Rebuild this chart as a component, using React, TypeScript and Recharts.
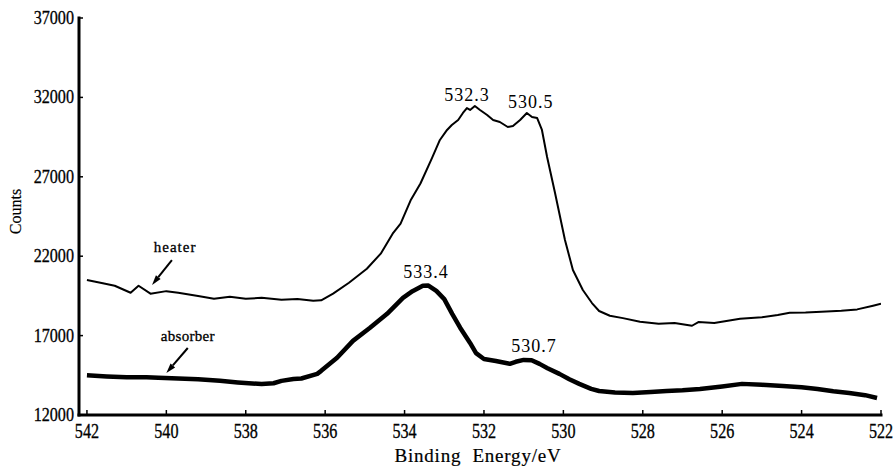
import React from 'react';
import { LineChart, Line, XAxis, YAxis, ReferenceDot, ReferenceLine, Label } from 'recharts';

const FONT = "'Liberation Serif', 'Times New Roman', serif";

const xDomainStart = 542.2;
const xTicks = [542, 540, 538, 536, 534, 532, 530, 528, 526, 524, 522];
const yTicks = [12000, 17000, 22000, 27000, 32000, 37000];

const heaterEnergy = [
  542.0, 541.6, 541.3, 540.9, 540.7, 540.4, 540.0, 539.7, 539.2, 538.8, 538.4, 538.0, 537.6, 537.1,
  536.7, 536.3, 536.1, 535.8, 535.4, 534.95, 534.6, 534.3, 534.1, 533.85, 533.6, 533.31, 533.11,
  532.93, 532.81, 532.65, 532.53, 532.43, 532.35, 532.23, 532.1, 531.92, 531.77, 531.6, 531.4,
  531.27, 531.09, 530.92, 530.79, 530.66, 530.54, 530.41, 530.21, 529.96, 529.76, 529.51, 529.28,
  529.1, 528.83, 528.5, 528.07, 527.6, 527.2, 526.76, 526.6, 526.2, 525.55, 525.0, 524.6, 524.3,
  523.9, 523.5, 523.0, 522.6, 522.2, 522.0,
];
const heaterCounts = [
  20500, 20300, 20140, 19700, 20140, 19640, 19800, 19700, 19500, 19320, 19450, 19320, 19380, 19260,
  19300, 19190, 19220, 19640, 20330, 21210, 22160, 23420, 24050, 25500, 26580, 28180, 29320,
  29950, 30260, 30580, 31020, 31330, 31210, 31460, 31210, 30890, 30580, 30450, 30135,
  30200, 30580, 31020, 30770, 30700, 29950, 28250, 25980, 23020, 21130, 19870, 19050,
  18550, 18250, 18100, 17870, 17750, 17800, 17620, 17850, 17800, 18060, 18150, 18300, 18440,
  18450, 18500, 18560, 18650, 18880, 19000,
];

const absorberEnergy = [
  542.0, 541.5, 541.0, 540.5, 540.2, 539.7, 539.2, 538.65, 538.2, 537.6, 537.3, 537.1, 536.8, 536.6,
  536.2, 536.1, 535.7, 535.3, 534.87, 534.44, 534.04, 533.8, 533.54, 533.4, 533.2, 533.0, 532.8,
  532.6, 532.35, 532.2, 532.0, 531.7, 531.35, 531.2, 531.0, 530.8, 530.6, 530.4, 530.1, 529.85,
  529.6, 529.3, 529.1, 528.7, 528.25, 527.8, 527.4, 527.0, 526.56, 526.0, 525.5, 525.0, 524.47,
  524.0, 523.6, 523.2, 522.8, 522.4, 522.1,
];
const absorberCounts = [
  14500, 14430, 14380, 14380, 14350, 14300, 14250, 14150, 14050, 13950, 14000, 14150, 14270, 14300,
  14590, 14780, 15600, 16670, 17490, 18370, 19380, 19800, 20140, 20150, 19820, 19300, 18370,
  17500, 16540, 15900, 15530, 15400, 15220, 15350, 15470, 15450, 15220, 14950, 14590, 14250,
  13960, 13650, 13510, 13420, 13390, 13450, 13510, 13560, 13640, 13800, 13960, 13900, 13830,
  13750, 13640, 13500, 13390, 13250, 13070,
];

const peakLabels = ['532.3', '530.5', '533.4', '530.7'];
const peakLabelX = [532.43, 530.82, 533.46, 530.74];
const peakLabelY = [32200, 31760, 21030, 16360];

const seriesNames = ['heater', 'absorber'];
const seriesLabelX = [539.78, 539.46];
const seriesLabelY = [22580, 16975];
const arrowTailX = [539.86, 539.46];
const arrowTailY = [21760, 16220];
const arrowHeadX = [540.36, 540.0];
const arrowHeadY = [20190, 14640];

const heaterData = heaterEnergy.map((e, i) => ({ energy: e, counts: heaterCounts[i] }));
const absorberData = absorberEnergy.map((e, i) => ({ energy: e, counts: absorberCounts[i] }));
const axisTicks = [xDomainStart, ...xTicks];

const XTick = (props: any) => {
  const { x, y, payload } = props;
  if (!xTicks.includes(payload.value)) return <g />;
  return (
    <g>
      <line x1={x} y1={y} x2={x} y2={y - 5} stroke="#000" strokeWidth={1.5} />
      <text
        x={0}
        y={0}
        transform={`translate(${x},${y + 23}) scale(0.85,1.1)`}
        textAnchor="middle"
        fontSize={19}
        fontFamily={FONT}
        fill="#000"
        stroke="#000"
        strokeWidth={0.3}
      >
        {payload.value}
      </text>
    </g>
  );
};

const YTick = (props: any) => {
  const { x, y, payload } = props;
  return (
    <g>
      <line x1={x} y1={y} x2={x + 4} y2={y} stroke="#000" strokeWidth={1.5} />
      <text
        x={0}
        y={0}
        transform={`translate(${x - 5},${y + 6}) scale(0.85,1)`}
        textAnchor="end"
        fontSize={19}
        fontFamily={FONT}
        fill="#000"
        stroke="#000"
        strokeWidth={0.3}
      >
        {payload.value}
      </text>
    </g>
  );
};

const ArrowShape = (props: any) => {
  const { x1, y1, x2, y2 } = props;
  const dx = x2 - x1;
  const dy = y2 - y1;
  const len = Math.sqrt(dx * dx + dy * dy) || 1;
  const ux = dx / len;
  const uy = dy / len;
  const hl = 10;
  const hw = 3;
  const bx = x2 - ux * hl;
  const by = y2 - uy * hl;
  const pts = `${x2},${y2} ${bx - uy * hw},${by + ux * hw} ${bx + uy * hw},${by - ux * hw}`;
  return (
    <g>
      <line x1={x1} y1={y1} x2={bx} y2={by} stroke="#000" strokeWidth={2} />
      <polygon points={pts} fill="#000" />
    </g>
  );
};

const CountsLabel = (props: any) => {
  const { viewBox } = props;
  const cx = viewBox.x + 15;
  const cy = viewBox.y + viewBox.height / 2 - 5;
  return (
    <text
      transform={`translate(${cx},${cy}) rotate(-90)`}
      textAnchor="middle"
      dominantBaseline="central"
      fontSize={16}
      fontFamily={FONT}
      fill="#000"
      stroke="#000"
      strokeWidth={0.2}
    >
      Counts
    </text>
  );
};

const EnergyLabel = (props: any) => {
  const { viewBox } = props;
  const cx = viewBox.x + viewBox.width / 2 - 2;
  const cy = viewBox.y + viewBox.height - 4;
  return (
    <text
      x={cx}
      y={cy}
      textAnchor="middle"
      fontSize={19}
      fontFamily={FONT}
      fill="#000"
      stroke="#000"
      strokeWidth={0.2}
      letterSpacing={0.8}
    >
      {'Binding\u00A0 Energy/eV'}
    </text>
  );
};

export default function App() {
  return (
    <div style={{ position: 'absolute', left: 0, top: 0, width: 894, height: 466 }}>
      <LineChart width={894} height={466} margin={{ top: 18, right: 13, left: 0, bottom: 0 }}>
        <XAxis
          dataKey="energy"
          type="number"
          domain={[522, xDomainStart]}
          reversed
          ticks={axisTicks}
          interval={0}
          allowDataOverflow
          height={51}
          tickSize={0}
          tickMargin={0}
          tickLine={false}
          tick={<XTick />}
          axisLine={{ stroke: '#000', strokeWidth: 3, strokeLinecap: 'square' }}
        >
          <Label content={<EnergyLabel />} />
        </XAxis>
        <YAxis
          type="number"
          domain={[12000, 37000]}
          ticks={yTicks}
          interval={0}
          allowDataOverflow
          width={79}
          tickSize={0}
          tickMargin={0}
          tickLine={false}
          tick={<YTick />}
          axisLine={{ stroke: '#000', strokeWidth: 3, strokeLinecap: 'square' }}
        >
          <Label content={<CountsLabel />} />
        </YAxis>
        <Line
          data={heaterData}
          dataKey="counts"
          type="linear"
          dot={false}
          stroke="#000"
          strokeWidth={2}
          strokeLinejoin="round"
          isAnimationActive={false}
        />
        <Line
          data={absorberData}
          dataKey="counts"
          type="linear"
          dot={false}
          stroke="#000"
          strokeWidth={4.5}
          strokeLinejoin="round"
          isAnimationActive={false}
        />
        {peakLabels.map((t, i) => (
          <ReferenceDot
            key={'p' + i}
            x={peakLabelX[i]}
            y={peakLabelY[i]}
            r={0}
            fill="none"
            stroke="none"
            label={{ value: t, position: 'center', fill: '#000', fontSize: 18, fontFamily: FONT, letterSpacing: 1 }}
          />
        ))}
        {seriesNames.map((t, i) => (
          <ReferenceDot
            key={'s' + i}
            x={seriesLabelX[i]}
            y={seriesLabelY[i]}
            r={0}
            fill="none"
            stroke="none"
            label={{ value: t, position: 'center', fill: '#000', stroke: '#000', strokeWidth: 0.3, fontSize: 15, fontFamily: FONT, letterSpacing: i === 0 ? 1 : 0.3 }}
          />
        ))}
        {seriesNames.map((t, i) => (
          <ReferenceLine
            key={'a' + i}
            segment={[
              { x: arrowTailX[i], y: arrowTailY[i] },
              { x: arrowHeadX[i], y: arrowHeadY[i] },
            ]}
            shape={<ArrowShape />}
          />
        ))}
      </LineChart>
    </div>
  );
}
